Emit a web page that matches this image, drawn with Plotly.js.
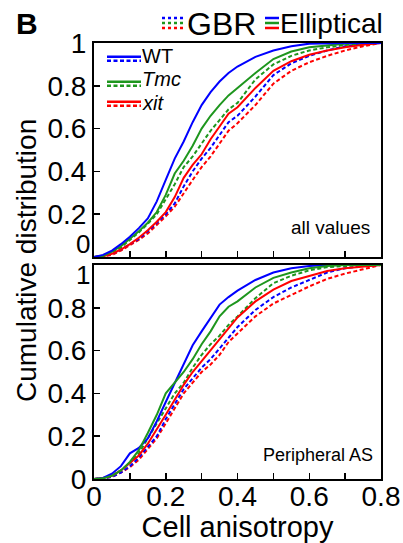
<!DOCTYPE html>
<html>
<head>
<meta charset="utf-8">
<script src="https://cdn.plot.ly/plotly-3.0.1.min.js"></script>
<style>html,body{margin:0;padding:0;background:#fff;}#chart{width:403px;height:543px;}</style>
</head>
<body>
<div id="chart"></div>
<script>
// ---- data ----
const xGrid = [0,0.025,0.05,0.075,0.1,0.125,0.15,0.175,0.2,0.225,0.25,0.275,0.3,0.325,0.35,0.375,0.4,0.45,0.5,0.55,0.6,0.65,0.7,0.75,0.8];

// top panel: all values
const topWTEll  = [0,0.01,0.03,0.06,0.095,0.135,0.18,0.26,0.36,0.46,0.54,0.63,0.71,0.77,0.82,0.86,0.89,0.935,0.965,0.985,0.997,1,1,1,1];
const topTmcEll = [0,0.005,0.025,0.05,0.085,0.12,0.16,0.21,0.29,0.39,0.45,0.52,0.6,0.66,0.71,0.755,0.79,0.86,0.925,0.96,0.98,0.99,0.997,1,1];
const topXitEll = [0,0.003,0.015,0.035,0.06,0.09,0.125,0.165,0.21,0.28,0.37,0.43,0.48,0.55,0.61,0.67,0.70,0.79,0.87,0.915,0.945,0.965,0.98,0.992,1];
const topWTGbr  = [0,0.003,0.015,0.035,0.06,0.085,0.12,0.16,0.2,0.25,0.33,0.4,0.46,0.51,0.57,0.63,0.66,0.75,0.85,0.905,0.94,0.965,0.985,0.995,1];
const topTmcGbr = [0,0.005,0.02,0.045,0.08,0.115,0.155,0.2,0.27,0.34,0.42,0.47,0.53,0.59,0.64,0.69,0.72,0.83,0.9,0.94,0.965,0.98,0.99,0.998,1];
const topXitGbr = [0,0.002,0.01,0.03,0.055,0.08,0.11,0.15,0.19,0.235,0.3,0.36,0.42,0.47,0.53,0.59,0.625,0.71,0.81,0.87,0.91,0.94,0.965,0.985,1];

// bottom panel: peripheral AS
const botWTEll  = [0,0.005,0.025,0.06,0.12,0.145,0.19,0.27,0.36,0.45,0.54,0.625,0.69,0.75,0.815,0.85,0.88,0.93,0.965,0.985,0.995,1,1,1,1];
const botTmcEll = [0,0.003,0.015,0.04,0.08,0.135,0.215,0.3,0.4,0.45,0.5,0.56,0.63,0.69,0.76,0.805,0.83,0.895,0.94,0.965,0.985,0.995,1,1,1];
const botXitEll = [0,0.005,0.015,0.04,0.075,0.11,0.165,0.23,0.3,0.37,0.44,0.5,0.55,0.6,0.65,0.7,0.755,0.83,0.885,0.925,0.95,0.972,0.985,0.993,1];
const botWTGbr  = [0,0.002,0.01,0.03,0.06,0.1,0.15,0.2,0.28,0.35,0.42,0.47,0.52,0.56,0.61,0.665,0.71,0.79,0.85,0.895,0.93,0.965,0.985,0.995,1];
const botTmcGbr = [0,0.003,0.015,0.04,0.075,0.12,0.19,0.26,0.33,0.4,0.45,0.52,0.58,0.63,0.67,0.72,0.76,0.845,0.915,0.95,0.975,0.99,0.995,1,1];
const botXitGbr = [0,0.002,0.01,0.03,0.055,0.09,0.14,0.19,0.26,0.33,0.4,0.45,0.5,0.535,0.58,0.64,0.68,0.76,0.82,0.86,0.9,0.935,0.96,0.98,1];

const genotypes = ['WT', 'Tmc', 'xit'];
const xTickVals = [0, 0.2, 0.4, 0.6, 0.8];
const xMinorVals = [0.1, 0.3, 0.5, 0.7];
const yTickTop = [0.2, 0.4, 0.6, 0.8, 1];
const yTickBot = [0, 0.2, 0.4, 0.6, 0.8];

// ---- styling ----
const colors = {WT: '#0000ff', Tmc: '#1e961e', xit: '#ff0000'};
const DASH = '4px,2.5px';
const W = 403, H = 543, ML = 94, MR = 22, MT = 43, MB = 64;
const PW = W - ML - MR, PH = H - MT - MB;
const px = v => (v - ML) / PW;          // pixel x -> paper x
const py = v => (H - MB - v) / PH;      // pixel y -> paper y

function tr(y, g, dashed, xa, ya) {
  return {x: xGrid, y: y, type: 'scatter', mode: 'lines', xaxis: xa, yaxis: ya,
    line: {color: colors[g], width: 2, dash: dashed ? DASH : 'solid'}, hoverinfo: 'skip', name: g};
}

const data = [
  tr(topXitGbr, 'xit', true, 'x2', 'y2'),
  tr(topWTGbr, 'WT', true, 'x2', 'y2'),
  tr(topTmcGbr, 'Tmc', true, 'x2', 'y2'),
  tr(topXitEll, 'xit', false, 'x2', 'y2'),
  tr(topTmcEll, 'Tmc', false, 'x2', 'y2'),
  tr(topWTEll, 'WT', false, 'x2', 'y2'),
  tr(botXitGbr, 'xit', true, 'x', 'y'),
  tr(botWTGbr, 'WT', true, 'x', 'y'),
  tr(botTmcGbr, 'Tmc', true, 'x', 'y'),
  tr(botXitEll, 'xit', false, 'x', 'y'),
  tr(botWTEll, 'WT', false, 'x', 'y'),
  tr(botTmcEll, 'Tmc', false, 'x', 'y')
];

const FONT = 'Arial, "Liberation Sans", Helvetica, sans-serif';
const axCommon = {
  showline: true, linewidth: 2, linecolor: 'black', mirror: true,
  showgrid: false, zeroline: false,
  ticks: 'inside', ticklen: 6, tickwidth: 1.5, tickcolor: 'black',
  tickfont: {size: 28, family: FONT, color: 'black'}
};
const xCommon = Object.assign({}, axCommon, {
  range: [0, 0.8], tickvals: xTickVals,
  minor: {tickvals: xMinorVals, ticks: 'inside', ticklen: 6, tickwidth: 1.5, tickcolor: 'black'}
});

const shapes = [];
const annotations = [];

// header icons: GBR (dotted) and Elliptical (solid)
const iconY = [18, 23, 28];
genotypes.forEach((g, i) => {
  shapes.push({type: 'line', xref: 'paper', yref: 'paper', x0: px(162), x1: px(185), y0: py(iconY[i]), y1: py(iconY[i]),
    line: {color: colors[g], width: 2.5, dash: 'dot'}});
  shapes.push({type: 'line', xref: 'paper', yref: 'paper', x0: px(265), x1: px(279), y0: py(iconY[i]), y1: py(iconY[i]),
    line: {color: colors[g], width: 2.5}});
});

// in-plot legend: solid over dashed for each genotype
const legY = [56.7, 81.7, 101.7];
const legTextY = [56, 79, 102.5];
genotypes.forEach((g, i) => {
  shapes.push({type: 'line', xref: 'paper', yref: 'paper', x0: px(107), x1: px(141), y0: py(legY[i]), y1: py(legY[i]),
    line: {color: colors[g], width: 2.5}});
  shapes.push({type: 'line', xref: 'paper', yref: 'paper', x0: px(107), x1: px(141), y0: py(legY[i] + 4), y1: py(legY[i] + 4),
    line: {color: colors[g], width: 2.5, dash: '4px,2.5px'}});
  annotations.push({xref: 'paper', yref: 'paper', x: px(140), y: py(legTextY[i]), xanchor: 'left', yanchor: 'middle',
    showarrow: false, text: g === 'WT' ? 'WT' : '<i>' + g + '</i>', font: {size: 20, family: FONT, color: 'black'}});
});

annotations.push(
  {xref: 'paper', yref: 'paper', x: px(27), y: py(23), xanchor: 'center', yanchor: 'middle', showarrow: false,
   text: '<b>B</b>', font: {size: 30, family: FONT, color: 'black'}},
  {xref: 'paper', yref: 'paper', x: px(185), y: py(24), xanchor: 'left', yanchor: 'middle', showarrow: false,
   text: 'GBR', font: {size: 32, family: FONT, color: 'black'}},
  {xref: 'paper', yref: 'paper', x: px(278), y: py(24), xanchor: 'left', yanchor: 'middle', showarrow: false,
   text: 'Elliptical', font: {size: 28, family: FONT, color: 'black'}},
  {xref: 'paper', yref: 'paper', x: px(372), y: py(227), xanchor: 'right', yanchor: 'middle', showarrow: false,
   text: 'all values', font: {size: 19, family: FONT, color: 'black'}},
  {xref: 'paper', yref: 'paper', x: px(375), y: py(455), xanchor: 'right', yanchor: 'middle', showarrow: false,
   text: 'Peripheral AS', font: {size: 18, family: FONT, color: 'black'}},
  {xref: 'paper', yref: 'paper', x: px(26), y: 0.5, xanchor: 'center', yanchor: 'middle', showarrow: false,
   textangle: -90, text: 'Cumulative distribution', font: {size: 28, family: FONT, color: 'black'}},
  // tick labels at the panel junction (shifted apart like the reference)
  {xref: 'paper', yref: 'paper', x: px(92), y: py(244), xanchor: 'right', yanchor: 'middle', showarrow: false,
   text: '0', font: {size: 26, family: FONT, color: 'black'}},
  {xref: 'paper', yref: 'paper', x: px(92), y: py(275), xanchor: 'right', yanchor: 'middle', showarrow: false,
   text: '1', font: {size: 26, family: FONT, color: 'black'}}
);

const layout = {
  width: W, height: H,
  margin: {l: ML, r: MR, t: MT, b: MB, pad: 0},
  paper_bgcolor: 'white', plot_bgcolor: 'white',
  showlegend: false,
  font: {family: FONT, color: 'black'},
  xaxis: Object.assign({}, xCommon, {anchor: 'y', ticklabelstandoff: -9,
    title: {text: 'Cell anisotropy', font: {size: 29, family: FONT, color: 'black'}, standoff: 0}}),
  xaxis2: Object.assign({}, xCommon, {anchor: 'y2', showticklabels: false}),
  yaxis: Object.assign({}, axCommon, {anchor: 'x', domain: [0, 214 / PH], range: [0, 1], tickvals: yTickBot}),
  yaxis2: Object.assign({}, axCommon, {anchor: 'x2', domain: [1 - 214 / PH, 1], range: [0, 1], tickvals: yTickTop}),
  shapes: shapes,
  annotations: annotations
};

Plotly.newPlot('chart', data, layout, {staticPlot: true, displayModeBar: false});
</script>
</body>
</html>
